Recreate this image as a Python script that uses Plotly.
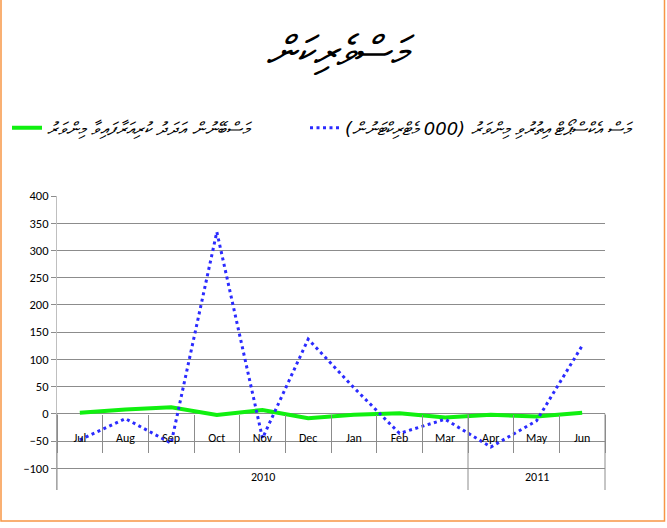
import plotly.graph_objects as go

# ---- data ----
months = ["Jul", "Aug", "Sep", "Oct", "Nov", "Dec", "Jan", "Feb", "Mar", "Apr", "May", "Jun"]
years = ["2010"] * 9 + ["2011"] * 3
catch_growth = [2, 8, 12, -2, 7, -8, -2, 1, -7, -2, -5, 2]
export_growth = [-48, -9, -54, 334, -45, 137, 48, -36, -10, -61, -13, 125]
y_ticks = [-100, -50, 0, 50, 100, 150, 200, 250, 300, 350, 400]

title_text = "މަސްވެރިކަން"
catch_name = "މަސްބޭނުން އަދަދު ކުރިއަރާފައިވާ މިންވަރު"
export_name = "މަސް އެކްސްޕޯޓް އިތުރުވި މިންވަރު (000 މެޓްރިކްޓަނުން)"

RLM = "\u200f"
W, H = 667, 528
L, R, T, B = 57, 62, 196, 38
ymin, ymax = -140, 400
n = len(months)

latin = "Calibri, Carlito, 'Liberation Sans', Arial, sans-serif"
thaana = "'DejaVu Sans', 'Noto Sans', sans-serif"
grid = "#8C8C8C"

fig = go.Figure()
fig.add_trace(go.Scatter(
    x=months, y=catch_growth, mode="lines", name=RLM + catch_name + RLM,
    line=dict(color="#10F010", width=4), legend="legend"))
fig.add_trace(go.Scatter(
    x=months, y=export_growth, mode="lines", name=RLM + export_name + RLM,
    line=dict(color="#2B2BFF", width=3, dash="3px,3.5px"), legend="legend2"))

# paper helpers (pixels -> paper fractions)
pw, ph = W - L - R, H - T - B
def px_x(p):
    return (p - L) / pw
def px_y(p):
    return (H - B - p) / ph

zero_paper = (0 - ymin) / (ymax - ymin)

shapes = []
# year dividers
bounds = [0]
for i in range(1, n):
    if years[i] != years[i - 1]:
        bounds.append(i)
bounds.append(n)
for b in bounds:
    shapes.append(dict(type="line", xref="paper", yref="paper",
                       x0=b / n, x1=b / n, y0=0, y1=zero_paper,
                       line=dict(color=grid, width=1)))
# chart border
shapes.append(dict(type="rect", xref="paper", yref="paper",
                   x0=px_x(1), x1=px_x(664.5), y0=px_y(521), y1=px_y(-3),
                   line=dict(color="#F79646", width=1.5), fillcolor="rgba(0,0,0,0)"))

annotations = []
for k in range(len(bounds) - 1):
    a, b = bounds[k], bounds[k + 1]
    annotations.append(dict(text=years[a], xref="paper", yref="paper",
                            x=(a + b) / 2 / n, y=px_y(477), yanchor="middle",
                            xanchor="center", showarrow=False,
                            font=dict(family=latin, size=12, color="#000")))

legend_font = dict(family=thaana, size=18, color="#000", style="italic")

fig.update_layout(
    width=W, height=H,
    margin=dict(l=L, r=R, t=T, b=B, autoexpand=False),
    paper_bgcolor="white", plot_bgcolor="white",
    title=dict(text=RLM + title_text + RLM, x=0.505, xanchor="center",
               y=1 - 51 / H, yanchor="middle",
               font=dict(family=thaana, size=42, color="#000", style="italic")),
    showlegend=True,
    legend=dict(orientation="h", x=px_x(7), xanchor="left",
                y=px_y(128), yanchor="middle", font=legend_font,
                bgcolor="rgba(0,0,0,0)"),
    legend2=dict(orientation="h", x=px_x(305), xanchor="left",
                 y=px_y(128), yanchor="middle", font=legend_font,
                 bgcolor="rgba(0,0,0,0)"),
    xaxis=dict(type="category", range=[-0.5, n - 0.5], anchor="free",
               position=zero_paper, showline=False, showgrid=False, zeroline=False,
               ticks="outside", tickson="boundaries", ticklen=38,
               tickcolor=grid, tickwidth=1, ticklabelstandoff=15,
               tickfont=dict(family=latin, size=12, color="#000")),
    yaxis=dict(range=[ymin, ymax], tickvals=y_ticks, showgrid=True,
               gridcolor=grid, gridwidth=1, zeroline=True, zerolinecolor=grid,
               zerolinewidth=1, showline=True, linecolor="#BFBFBF", linewidth=1,
               ticks="outside", ticklen=5, tickcolor=grid,
               tickfont=dict(family=latin, size=12.5, color="#000")),
    shapes=shapes, annotations=annotations,
)

fig.write_html("out.html", config={"displayModeBar": False},
               post_script="document.body.style.margin='0px';")
